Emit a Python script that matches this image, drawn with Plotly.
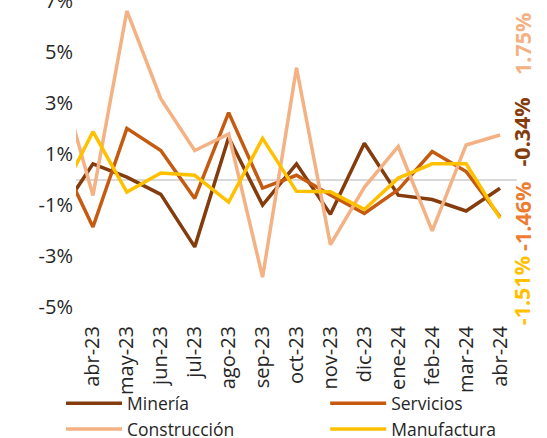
import plotly.graph_objects as go

months = ["mar-23", "abr-23", "may-23", "jun-23", "jul-23", "ago-23", "sep-23",
          "oct-23", "nov-23", "dic-23", "ene-24", "feb-24", "mar-24", "abr-24"]

mineria = [-1.40, 0.62, 0.10, -0.58, -2.64, 1.65, -1.00, 0.62, -1.36, 1.43, -0.61, -0.78, -1.23, -0.34]
servicios = [0.94, -1.86, 2.01, 1.14, -0.74, 2.63, -0.33, 0.17, -0.60, -1.33, -0.40, 1.10, 0.32, -1.46]
construccion = [4.12, -0.62, 6.62, 3.18, 1.14, 1.79, -3.83, 4.39, -2.55, -0.30, 1.30, -2.01, 1.36, 1.75]
manufactura = [-0.72, 1.88, -0.49, 0.26, 0.17, -0.88, 1.62, -0.46, -0.48, -1.17, 0.06, 0.62, 0.62, -1.51]

y_ticks = [-5, -3, -1, 1, 3, 5, 7]
y_ticktext = [f"{v}%" for v in y_ticks]

series = [
    ("Minería", mineria, "#843C0C", "legend"),
    ("Servicios", servicios, "#C55A11", "legend2"),
    ("Construcción", construccion, "#F4B183", "legend"),
    ("Manufactura", manufactura, "#FFC000", "legend2"),
]

FONT = "Open Sans"
TXT = "#262626"

fig = go.Figure()
for name, vals, color, lg in series:
    fig.add_trace(go.Scatter(x=months, y=vals, name=name, mode="lines", legend=lg,
                             line=dict(color=color, width=3.5)))

# End-value labels on the right (vertical, bold)
end_labels = [
    (construccion[-1], "#F4B183", 5.32),
    (mineria[-1], "#843C0C", 1.88),
    (servicios[-1], "#ED7D31", -1.43),
    (manufactura[-1], "#FFC000", -4.35),
]
for val, color, ypos in end_labels:
    fig.add_annotation(x=1.011, xref="paper", y=ypos, yref="y",
                       text=f"<b>{val:.2f}%</b>", showarrow=False, textangle=-90,
                       font=dict(family=FONT, size=21.5, color=color),
                       xanchor="center", yanchor="middle")

legend_common = dict(orientation="v", yanchor="top", xanchor="left",
                     yref="container", y=0.12,
                     tracegroupgap=0, itemwidth=56, bgcolor="rgba(0,0,0,0)",
                     font=dict(family=FONT, size=17.5, color=TXT))

fig.update_layout(
    width=547, height=438,
    margin=dict(l=76, r=30, t=0, b=131, autoexpand=False),
    plot_bgcolor="white", paper_bgcolor="white",
    font=dict(family=FONT, size=17, color=TXT),
    showlegend=True,
    legend=dict(x=-0.034, **legend_common),
    legend2=dict(x=0.565, **legend_common),
    xaxis=dict(type="category", categoryorder="array", categoryarray=months,
               range=[0.5, 13.5], tickangle=-90, showgrid=False, zeroline=False,
               showline=False, ticks="outside", ticklen=10, tickcolor="rgba(0,0,0,0)",
               automargin=False, tickfont=dict(family=FONT, size=20, color=TXT)),
    yaxis=dict(range=[-5, 7.05], tickvals=y_ticks, ticktext=y_ticktext, showgrid=False,
               zeroline=True, zerolinecolor="#D9D9D9", zerolinewidth=2, showline=False,
               ticks="", automargin=False, ticklabeloverflow="allow",
               tickfont=dict(family=FONT, size=20, color=TXT)),
)

try:
    fig.update_yaxes(ticklabelstandoff=2)
except Exception:
    pass

fig.write_html("out.html", config={"displayModeBar": False},
               post_script="document.body.style.margin='0';")
